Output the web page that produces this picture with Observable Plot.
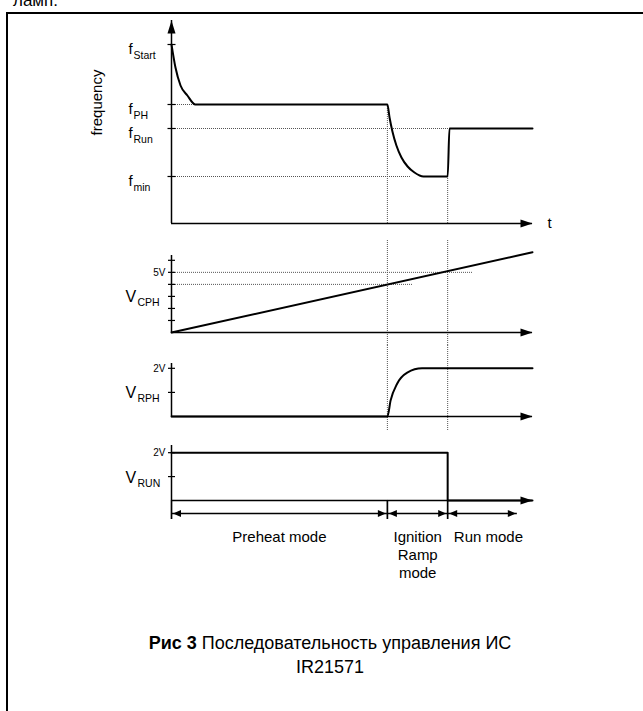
<!DOCTYPE html>
<html><head><meta charset="utf-8">
<script src="https://cdn.jsdelivr.net/npm/d3@7"></script>
<script src="https://cdn.jsdelivr.net/npm/@observablehq/plot@0.6"></script>
<style>
html,body{margin:0;padding:0;background:#fff;overflow:hidden;width:643px;height:711px;}
body{position:relative;font-family:"Liberation Sans",Arial,sans-serif;color:#000;}
#frame{position:absolute;left:6px;top:12px;width:700px;height:720px;border-left:2px solid #000;border-top:2px solid #000;}
#toptext{position:absolute;left:13px;top:-9px;font-size:17px;line-height:20px;}
#cap{position:absolute;left:0;width:660px;top:631px;text-align:center;font-size:18px;line-height:24px;}
#chart svg{position:absolute;left:0;}
</style></head><body>
<div id="toptext">ламп.</div>
<div id="frame"></div>
<div id="chart"></div>
<div id="cap"><b>Рис 3</b> Последовательность управления ИС<br>IR21571</div>
<script>
// ---- time events (arbitrary time units) ----
const tIgn = 5.98, tRun = 7.65, tEnd = 10;

// ---- frequency panel ----
const fLevels = ["Start", "PH", "Run", "min"];
const fValues = [17.9, 11.9, 9.5, 4.7];
const fDottedEnd = [0, tIgn, 7.73, 6.62];
const fAxisTop = 20.3;
const freqT = [0, 0.11, 0.25, 0.44, 0.66, 5.98, 6.04, 6.12, 6.23, 6.37, 6.54, 6.73, 6.98, 7.65, 7.70, 10];
const freqF = [17.9, 15.6, 13.8, 12.8, 11.9, 11.9, 10.6, 9.2, 7.8, 6.6, 5.7, 5.1, 4.7, 4.7, 9.5, 9.5];

// ---- V_CPH panel ----
const cphT = [0, 10];
const cphV = [0, 6.67];
const cphTicks = [1, 2, 3, 4, 5, 6];
const cphDotLevels = [5, 4];
const cphDotEnd = [8.34, 6.68];
const cphAxisTop = 6.4;

// ---- V_RPH panel ----
const rphT = [0, 5.98, 6.07, 6.25, 6.53, 6.94, 10];
const rphV = [0, 0, 0.67, 1.36, 1.82, 2.0, 2.0];
const rphTicks = [1, 2];
const rphAxisTop = 2.2;

// ---- V_RUN panel ----
const runT = [0, 7.65, 7.65, 10];
const runV = [2, 2, 0, 0];
const runTicks = [1, 2];
const runAxisTop = 2.3;

// ---- modes ----
const modeNames = ["Preheat mode", "Ignition\nRamp\nmode", "Run mode"];
const modeStart = [0, tIgn, tRun];
const modeEnd = [tIgn, tRun, 9.58];
const modeLabelT = [2.99, 6.82, 8.78];

// ---- helpers ----
const W = 643;
const FONT = "Liberation Sans, Arial, sans-serif";
const xScale = () => ({domain: [0, tEnd], range: [171, 532], axis: null});
const dotted = {stroke: "#555", strokeWidth: 1, strokeDasharray: "1,1"};
const headRight = {draw(c) { c.moveTo(0, 0); c.lineTo(-12, -4); c.lineTo(-12, 4); c.closePath(); }};
const headUp = {draw(c) { c.moveTo(0, 0); c.lineTo(-4, 13); c.lineTo(4, 13); c.closePath(); }};
const modeR = {draw(c) { c.moveTo(0, 0); c.lineTo(-8, -3.5); c.lineTo(-8, 3.5); c.closePath(); }};
const modeL = {draw(c) { c.moveTo(0, 0); c.lineTo(8, -3.5); c.lineTo(8, 3.5); c.closePath(); }};
const tickSym = {draw(c) { c.moveTo(-3.5, 0); c.lineTo(3.5, 0); }};
const zip = (a, b) => a.map((v, i) => ({t: v, v: b[i]}));

function place(svg, top) {
  svg.style.top = top + "px";
  document.getElementById("chart").appendChild(svg);
}
function plot(height, y, marks) {
  return Plot.plot({
    width: W, height, margin: 0,
    style: {background: "transparent", overflow: "visible", fontFamily: FONT, color: "#000"},
    x: xScale(), y: y ? {...y, axis: null} : {axis: null},
    marks
  });
}
function axes(top) {
  return [
    Plot.ruleX([0], {x: d => d, y1: 0, y2: top, stroke: "#000", strokeWidth: 1.5}),
    Plot.ruleY([0], {y: d => d, x1: 0, x2: tEnd, stroke: "#000", strokeWidth: 1.5}),
    Plot.dot([0], {x: tEnd, y: 0, symbol: headRight, fill: "#000", stroke: "none"})
  ];
}
function ticks(vals) {
  return Plot.dot(vals, {x: 0, y: d => d, symbol: tickSym, stroke: "#000", fill: "none", strokeWidth: 1.2});
}
function vLabel(level, sub) {
  return [
    Plot.text([level], {x: 0, y: d => d, text: () => "V", dx: -46, dy: 6, textAnchor: "start", lineAnchor: "bottom", fontSize: 16}),
    Plot.text([level], {x: 0, y: d => d, text: () => sub, dx: -34, dy: 10, textAnchor: "start", lineAnchor: "bottom", fontSize: 10.5})
  ];
}
function tickLabel(level, txt) {
  return Plot.text([level], {x: 0, y: d => d, text: () => txt, dx: -6, textAnchor: "end", lineAnchor: "middle", fontSize: 10});
}

// ---- Panel 1: frequency ----
const fData = fLevels.map((n, i) => ({name: n, f: fValues[i], end: fDottedEnd[i]}));
const guides1 = [{t: tIgn, top: fValues[1]}, {t: tRun, top: fValues[3]}];
place(plot(240, {domain: [0, fAxisTop], range: [223, 20]}, [
  Plot.ruleY(fData, {y: "f", x1: 0, x2: "end", ...dotted}),
  Plot.ruleX(guides1, {x: "t", y1: "top", ...dotted}),
  ...axes(fAxisTop),
  Plot.dot([0], {x: 0, y: fAxisTop, symbol: headUp, fill: "#000", stroke: "none"}),
  Plot.dot(fValues, {x: 0, y: d => d, symbol: {draw(c) { c.moveTo(-4, 0); c.lineTo(4, 0); }}, stroke: "#000", fill: "none", strokeWidth: 1.2}),
  Plot.line(zip(freqT, freqF), {x: "t", y: "v", curve: "monotone-x", stroke: "#000", strokeWidth: 2}),
  Plot.text(fData, {x: 0, y: "f", text: () => "f", dx: -43, dy: 9, textAnchor: "start", lineAnchor: "bottom", fontSize: 15}),
  Plot.text(fData, {x: 0, y: "f", text: "name", dx: -38, dy: 14, textAnchor: "start", lineAnchor: "bottom", fontSize: 10.5}),
  Plot.text(["frequency"], {frameAnchor: "left", text: d => d, dx: 97, dy: -18, rotate: -90, textAnchor: "middle", lineAnchor: "middle", fontSize: 15}),
  Plot.text(["t"], {x: tEnd, y: 0, text: d => d, dx: 15, textAnchor: "start", lineAnchor: "middle", fontSize: 15})
]), 0);

// ---- Panel 2: V_CPH ----
const cphDots = cphDotLevels.map((v, i) => ({v, end: cphDotEnd[i]}));
place(plot(105, {domain: [0, cphAxisTop], range: [92, 15]}, [
  Plot.ruleY(cphDots, {y: "v", x1: 0, x2: "end", ...dotted}),
  Plot.ruleX([tIgn, tRun], {x: d => d, ...dotted}),
  ...axes(cphAxisTop),
  ticks(cphTicks),
  tickLabel(5, "5V"),
  ...vLabel(3, "CPH"),
  Plot.line(zip(cphT, cphV), {x: "t", y: "v", stroke: "#000", strokeWidth: 2})
]), 240);

// ---- Panel 3: V_RPH ----
place(plot(85, {domain: [0, rphAxisTop], range: [71, 18]}, [
  Plot.ruleX([tIgn, tRun], {x: d => d, ...dotted}),
  ...axes(rphAxisTop),
  ticks(rphTicks),
  tickLabel(2, "2V"),
  ...vLabel(1, "RPH"),
  Plot.line(zip(rphT, rphV), {x: "t", y: "v", curve: "monotone-x", stroke: "#000", strokeWidth: 2})
]), 345);

// ---- Panel 4: V_RUN ----
place(plot(75, {domain: [0, runAxisTop], range: [70, 15]}, [
  Plot.ruleX([tIgn, tRun], {x: d => d, y2: 0, ...dotted}),
  ...axes(runAxisTop),
  ticks(runTicks),
  tickLabel(2, "2V"),
  ...vLabel(1, "RUN"),
  Plot.line(zip(runT, runV), {x: "t", y: "v", stroke: "#000", strokeWidth: 2})
]), 430);

// ---- Panel 5: mode arrows ----
const modes = modeNames.map((n, i) => ({name: n, start: modeStart[i], end: modeEnd[i], lt: modeLabelT[i]}));
place(plot(19, null, [
  Plot.ruleX(modeStart, {x: d => d, stroke: "#000", strokeWidth: 1.7}),
  Plot.ruleY(modes, {y: null, x1: "start", x2: "end", dy: 3.5, stroke: "#000", strokeWidth: 1.5}),
  Plot.dot(modes, {x: "start", dx: 1.5, dy: 3.5, symbol: modeL, fill: "#000", stroke: "none"}),
  Plot.dot(modes, {x: "end", dx: -1.5, dy: 3.5, symbol: modeR, fill: "#000", stroke: "none"})
]), 500);

// ---- Panel 6: mode labels ----
place(plot(65, null, [
  Plot.text(modes, {x: "lt", text: "name", frameAnchor: "top", lineAnchor: "top", fontSize: 15, lineHeight: 1.2})
]), 529);
</script>
</body></html>
